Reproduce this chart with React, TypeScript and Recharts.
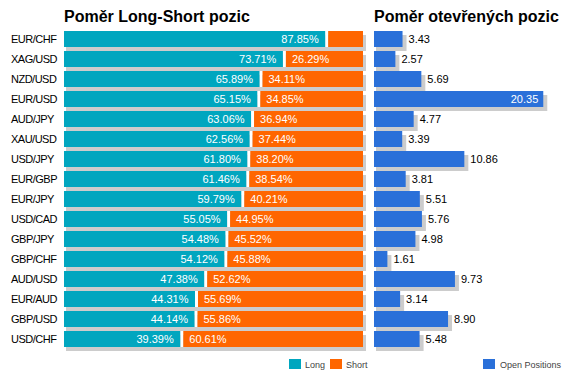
import React from 'react';
import { BarChart, Bar, XAxis, YAxis, LabelList } from 'recharts';

const pairs = ['EUR/CHF', 'XAG/USD', 'NZD/USD', 'EUR/USD', 'AUD/JPY', 'XAU/USD', 'USD/JPY', 'EUR/GBP', 'EUR/JPY', 'USD/CAD', 'GBP/JPY', 'GBP/CHF', 'AUD/USD', 'EUR/AUD', 'GBP/USD', 'USD/CHF'];
const longPct = [87.85, 73.71, 65.89, 65.15, 63.06, 62.56, 61.8, 61.46, 59.79, 55.05, 54.48, 54.12, 47.38, 44.31, 44.14, 39.39];
const shortPct = [12.15, 26.29, 34.11, 34.85, 36.94, 37.44, 38.2, 38.54, 40.21, 44.95, 45.52, 45.88, 52.62, 55.69, 55.86, 60.61];
const openPositions = [3.43, 2.57, 5.69, 20.35, 4.77, 3.39, 10.86, 3.81, 5.51, 5.76, 4.98, 1.61, 9.73, 3.14, 8.9, 5.48];

const titleLeft = 'Poměr Long-Short pozic';
const titleRight = 'Poměr otevřených pozic';

const C_LONG = '#00A6BF';
const C_SHORT = '#FF6600';
const C_OPEN = '#2A70D9';
const C_SHADOW = '#CCCCCC';
const NARROW = "'Liberation Sans Narrow', 'Arial Narrow', 'Liberation Sans', Arial, sans-serif";
const SANS = "'Liberation Sans', Arial, sans-serif";

const lsData = pairs.map((p, i) => ({ pair: p, long: longPct[i], short: shortPct[i] }));
const opData = pairs.map((p, i) => ({ pair: p, open: openPositions[i] }));

const LongShape = (props: any) => {
  const { x, y, width, height, payload } = props;
  const total = (width * 100) / payload.long;
  return (
    <g>
      <rect x={x + 2} y={y + 4} width={total + 1} height={height} fill={C_SHADOW} />
      <rect x={x + width - 1.5} y={y} width={3} height={height} fill="#fff" />
      <rect x={x} y={y} width={width - 1.5} height={height} fill={C_LONG} />
    </g>
  );
};

const ShortShape = (props: any) => {
  const { x, y, width, height } = props;
  return <rect x={x + 1.5} y={y} width={Math.max(0, width - 1.5)} height={height} fill={C_SHORT} />;
};

const OpenShape = (props: any) => {
  const { x, y, width, height } = props;
  return (
    <g>
      <rect x={x + 2} y={y + 4} width={width + 2} height={height} fill={C_SHADOW} />
      <rect x={x} y={y} width={width} height={height} fill={C_OPEN} />
    </g>
  );
};

const LongLabel = (props: any) => {
  const { x, y, width, height, value } = props;
  return (
    <text x={x + width - 8} y={y + height / 2} dy="0.36em" textAnchor="end" fill="#fff" fontSize={11} fontFamily={NARROW}>
      {Number(value).toFixed(2)}%
    </text>
  );
};

const ShortLabel = (props: any) => {
  const { x, y, height, value } = props;
  if (Number(value) < 20) return null;
  return (
    <text x={x + 7.5} y={y + height / 2} dy="0.36em" textAnchor="start" fill="#fff" fontSize={11} fontFamily={NARROW}>
      {Number(value).toFixed(2)}%
    </text>
  );
};

const OpenLabel = (props: any) => {
  const { x, y, width, height, value } = props;
  const inside = Number(value) > 15;
  return (
    <text
      x={inside ? x + width - 5 : x + width + 6}
      y={y + height / 2}
      dy="0.36em"
      textAnchor={inside ? 'end' : 'start'}
      fill={inside ? '#fff' : '#000'}
      fontSize={11}
      fontFamily={NARROW}
    >
      {Number(value).toFixed(2)}
    </text>
  );
};

const PairTick = (props: any) => {
  const { y, payload } = props;
  return (
    <text x={11} y={y} dy="0.36em" textAnchor="start" fill="#000" fontSize={11} fontFamily={SANS} letterSpacing={-0.5}>
      {payload.value}
    </text>
  );
};

export default function App() {
  return (
    <div style={{ position: 'absolute', left: 0, top: 0, width: 570, height: 380, background: '#fff' }}>
      <div style={{ position: 'absolute', left: 0, top: 0 }}>
        <BarChart width={370} height={380} data={lsData} layout="vertical" margin={{ top: 29, right: 7, bottom: 31, left: 0 }} barSize={16}>
          <XAxis type="number" domain={[0, 100]} hide />
          <YAxis type="category" dataKey="pair" width={64} axisLine={false} tickLine={false} tick={<PairTick />} interval={0} />
          <Bar dataKey="long" stackId="ls" fill={C_LONG} shape={<LongShape />} isAnimationActive={false}>
            <LabelList dataKey="long" content={<LongLabel />} />
          </Bar>
          <Bar dataKey="short" stackId="ls" fill={C_SHORT} shape={<ShortShape />} isAnimationActive={false}>
            <LabelList dataKey="short" content={<ShortLabel />} />
          </Bar>
        </BarChart>
      </div>
      <div style={{ position: 'absolute', left: 370, top: 0 }}>
        <BarChart width={200} height={380} data={opData} layout="vertical" margin={{ top: 29, right: 13, bottom: 31, left: 4 }} barSize={16}>
          <XAxis type="number" domain={[0, 22]} hide />
          <YAxis type="category" dataKey="pair" hide />
          <Bar dataKey="open" fill={C_OPEN} shape={<OpenShape />} isAnimationActive={false}>
            <LabelList dataKey="open" content={<OpenLabel />} />
          </Bar>
        </BarChart>
      </div>
      <svg width={570} height={380} style={{ position: 'absolute', left: 0, top: 0, pointerEvents: 'none' }}>
        <text x={64} y={22} fontSize={16} fontWeight="bold" fontFamily={SANS} fill="#000">{titleLeft}</text>
        <text x={374} y={22} fontSize={16} fontWeight="bold" fontFamily={SANS} fill="#000">{titleRight}</text>
        <rect x={289} y={359} width={12} height={10} fill={C_LONG} />
        <text x={305} y={367.5} fontSize={9} fontFamily={NARROW} fill="#444">Long</text>
        <rect x={330} y={359} width={12} height={10} fill={C_SHORT} />
        <text x={346} y={367.5} fontSize={9} fontFamily={NARROW} fill="#444">Short</text>
        <rect x={483} y={359} width={12} height={10} fill={C_OPEN} />
        <text x={500} y={367.5} fontSize={9} fontFamily={NARROW} fill="#444">Open Positions</text>
      </svg>
    </div>
  );
}
